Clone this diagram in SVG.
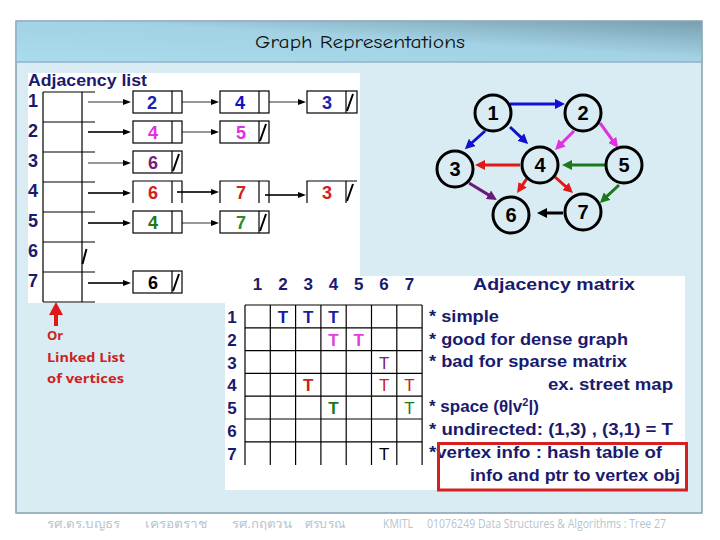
<svg xmlns="http://www.w3.org/2000/svg" width="720" height="540" viewBox="0 0 720 540">
<style>
.lbl{font-family:"Liberation Sans",Arial,sans-serif;font-weight:bold;fill:#1a1a6e}
.num{font-family:"Liberation Sans",Arial,sans-serif;font-weight:bold;text-anchor:middle}
.box{fill:#fff;stroke:#000;stroke-width:1.2}
.ln{stroke:#000;stroke-width:1.2;fill:none}
.ptr{stroke:#333;stroke-width:1.2;fill:none}
.sl{stroke:#000;stroke-width:2;fill:none}
.circ{fill:#daecf3;stroke:#000;stroke-width:3}
.gn{font-family:"Liberation Sans",Arial,sans-serif;font-weight:bold;font-size:20px;text-anchor:middle;fill:#000}
.e{stroke-width:3;fill:none}
.bul{font-family:"Liberation Sans",Arial,sans-serif;font-weight:bold;font-size:17px;fill:#1a1a6e}
.T{font-family:"Liberation Sans",Arial,sans-serif;font-weight:bold;font-size:17px;text-anchor:middle}
.foot{font-family:"Open Sans","Noto Sans","Liberation Sans",sans-serif;font-size:12px;fill:#b8c4cc}
.red{font-family:"Open Sans","Liberation Sans",sans-serif;font-weight:bold;font-size:13px;fill:#cc2222}
</style>
<defs>
<linearGradient id="tg" x1="0" y1="1" x2="1" y2="0">
<stop offset="0" stop-color="#a9dcee"/>
<stop offset="0.55" stop-color="#a2d2e4"/>
<stop offset="1" stop-color="#789eae"/>
</linearGradient>
<marker id="ak" markerUnits="userSpaceOnUse" markerWidth="8" markerHeight="6" refX="1" refY="3" orient="auto"><path d="M0,0 L8,3 L0,6 z" fill="#000"/></marker>
<marker id="mb" markerUnits="userSpaceOnUse" markerWidth="11" markerHeight="10" refX="3" refY="5" orient="auto"><path d="M0,0 L10,5 L0,10 z" fill="#1010d0"/></marker>
<marker id="mm" markerUnits="userSpaceOnUse" markerWidth="11" markerHeight="10" refX="3" refY="5" orient="auto"><path d="M0,0 L10,5 L0,10 z" fill="#e030e0"/></marker>
<marker id="mr" markerUnits="userSpaceOnUse" markerWidth="11" markerHeight="10" refX="3" refY="5" orient="auto"><path d="M0,0 L10,5 L0,10 z" fill="#e01818"/></marker>
<marker id="mg" markerUnits="userSpaceOnUse" markerWidth="11" markerHeight="10" refX="3" refY="5" orient="auto"><path d="M0,0 L10,5 L0,10 z" fill="#1a7a1a"/></marker>
<marker id="mp" markerUnits="userSpaceOnUse" markerWidth="11" markerHeight="10" refX="3" refY="5" orient="auto"><path d="M0,0 L10,5 L0,10 z" fill="#6a1a7a"/></marker>
<marker id="mk" markerUnits="userSpaceOnUse" markerWidth="11" markerHeight="10" refX="3" refY="5" orient="auto"><path d="M0,0 L10,5 L0,10 z" fill="#000"/></marker>
</defs>

<!-- slide frame -->
<rect x="0" y="0" width="720" height="540" fill="#fff"/>
<rect x="16" y="21" width="686" height="492" fill="#daecf3" stroke="#8fa8b8" stroke-width="1.2"/>
<rect x="16" y="21" width="686" height="41" fill="url(#tg)"/>
<line x1="16" y1="62" x2="702" y2="62" stroke="#8fb4c6" stroke-width="1.5"/>
<rect x="16" y="21" width="686" height="492" fill="none" stroke="#8fa8b8" stroke-width="1.2"/>
<text x="360" y="48" text-anchor="middle" font-family="'Comic Neue','DejaVu Sans',sans-serif" font-size="18" fill="#111" textLength="210" lengthAdjust="spacingAndGlyphs">Graph Representations</text>

<!-- white panels -->
<rect x="28" y="73" width="332" height="230" fill="#fff"/>
<rect x="225" y="276" width="460" height="214" fill="#fff"/>

<!-- Adjacency list -->
<g id="adjacency-list">
<text class="lbl" x="28" y="86" font-size="17" textLength="119" lengthAdjust="spacingAndGlyphs">Adjacency list</text>
<g class="lbl" font-size="18">
<text x="28" y="107">1</text><text x="28" y="137">2</text><text x="28" y="167">3</text><text x="28" y="197">4</text><text x="28" y="227">5</text><text x="28" y="257">6</text><text x="28" y="287">7</text>
</g>
<path class="ln" d="M43,92 V302 M82,92 V302 M43,92 H95 M43,122 H95 M43,152 H95 M43,182 H95 M43,212 H95 M43,242 H95 M43,272 H95 M43,302 H95"/>
<line class="sl" x1="82.5" y1="264" x2="86.5" y2="249"/>
</g>

<g id="list-arrows">
<g class="ptr" marker-end="url(#ak)">
<line x1="88" y1="102" x2="124" y2="102"/>
<line x1="88" y1="132" x2="124" y2="132" stroke-width="1.8"/>
<line x1="88" y1="163" x2="124" y2="163"/>
<line x1="88" y1="193" x2="124" y2="193" stroke-width="1.8"/>
<line x1="88" y1="223" x2="124" y2="223" stroke-width="1.8"/>
<line x1="88" y1="283" x2="124" y2="283" stroke-width="1.8"/>
<line x1="178" y1="102" x2="212" y2="102"/>
<line x1="178" y1="132" x2="212" y2="132"/>
<line x1="177" y1="192" x2="212" y2="192" stroke-width="1.8"/>
<line x1="178" y1="223" x2="212" y2="223"/>
<line x1="264" y1="102" x2="299" y2="102"/>
<line x1="265" y1="195" x2="299" y2="195" stroke-width="1.8"/>
</g>
</g>

<g id="row1">
<rect class="box" x="133" y="91" width="49" height="22"/><line class="ln" x1="172" y1="91" x2="172" y2="113"/>
<text class="num" x="152" y="109" font-size="18" fill="#2222a8">2</text>
<rect class="box" x="220" y="91" width="49" height="22"/><line class="ln" x1="259" y1="91" x2="259" y2="113"/>
<text class="num" x="240" y="109" font-size="18" fill="#1010c8">4</text>
<rect class="box" x="307" y="91" width="50" height="22"/><line class="ln" x1="346" y1="91" x2="346" y2="113"/>
<text class="num" x="327" y="109" font-size="18" fill="#2222a8">3</text>
<line class="sl" x1="347" y1="111" x2="353" y2="94"/>
</g>
<g id="row2">
<rect class="box" x="133" y="121" width="49" height="22"/><line class="ln" x1="172" y1="121" x2="172" y2="143"/>
<text class="num" x="153" y="139" font-size="18" fill="#e030e0">4</text>
<rect class="box" x="220" y="121" width="49" height="22"/><line class="ln" x1="259" y1="121" x2="259" y2="143"/>
<text class="num" x="241" y="139" font-size="18" fill="#e030e0">5</text>
<line class="sl" x1="260" y1="141" x2="266" y2="124"/>
</g>
<g id="row3">
<rect class="box" x="133" y="151" width="49" height="22"/><line class="ln" x1="172" y1="151" x2="172" y2="173"/>
<text class="num" x="153" y="169" font-size="18" fill="#7a1a7a">6</text>
<line class="sl" x1="173" y1="171" x2="179" y2="154"/>
</g>
<g id="row4">
<path class="ln" d="M133,203 V181 H182 V203 M172,181 V203"/>
<text class="num" x="153" y="199" font-size="18" fill="#d42020">6</text>
<path class="ln" d="M220,203 V181 H269 V203 M259,181 V203"/>
<text class="num" x="241" y="199" font-size="18" fill="#d42020">7</text>
<path class="ln" d="M307,203 V181 H357 M346,181 V203"/>
<text class="num" x="327" y="199" font-size="18" fill="#d42020">3</text>
<line class="sl" x1="347" y1="201" x2="353" y2="184"/>
</g>
<g id="row5">
<rect class="box" x="133" y="211" width="49" height="22"/><line class="ln" x1="172" y1="211" x2="172" y2="233"/>
<text class="num" x="153" y="229" font-size="18" fill="#1a7a1a">4</text>
<rect class="box" x="220" y="211" width="49" height="22"/><line class="ln" x1="259" y1="211" x2="259" y2="233"/>
<text class="num" x="241" y="229" font-size="18" fill="#2a8a2a" font-weight="normal">7</text>
<line class="sl" x1="260" y1="231" x2="266" y2="214"/>
</g>
<g id="row7">
<rect class="box" x="133" y="271" width="49" height="22"/><line class="ln" x1="172" y1="271" x2="172" y2="293"/>
<text class="num" x="153" y="289" font-size="18" fill="#000" font-weight="normal">6</text>
<line class="sl" x1="173" y1="291" x2="179" y2="274"/>
</g>

<!-- vertex list note -->
<g id="note">
<path d="M56,302 L63,315 L58,315 L58,326 L54,326 L54,315 L49,315 Z" fill="#e01818"/>
<text class="red" x="47" y="340">Or</text>
<text class="red" x="47" y="362" textLength="78" lengthAdjust="spacingAndGlyphs">Linked List</text>
<text class="red" x="47" y="383" textLength="77" lengthAdjust="spacingAndGlyphs">of vertices</text>
</g>

<!-- Graph -->
<g id="graph-edges">
<line class="e" stroke="#1010d0" x1="510" y1="104" x2="558" y2="104" marker-end="url(#mb)"/>
<line class="e" stroke="#1010d0" x1="485" y1="131" x2="470" y2="144.5" marker-end="url(#mb)"/>
<line class="e" stroke="#1010d0" x1="510" y1="127" x2="523" y2="139.2" marker-end="url(#mb)"/>
<line class="e" stroke="#e030e0" x1="574" y1="131" x2="560" y2="145" marker-end="url(#mm)"/>
<line class="e" stroke="#e030e0" x1="600" y1="123" x2="614" y2="142.3" marker-end="url(#mm)"/>
<line class="e" stroke="#e01818" x1="520" y1="165" x2="482" y2="165" marker-end="url(#mr)"/>
<line class="e" stroke="#1a7a1a" x1="605" y1="165" x2="569" y2="165" marker-end="url(#mg)"/>
<line class="e" stroke="#6a1a7a" x1="469" y1="183" x2="491" y2="196.4" marker-end="url(#mp)"/>
<line class="e" stroke="#e01818" x1="528" y1="177" x2="521" y2="187.2" marker-end="url(#mr)"/>
<line class="e" stroke="#e01818" x1="555" y1="177" x2="567.8" y2="188.4" marker-end="url(#mr)"/>
<line class="e" stroke="#1a7a1a" x1="619" y1="185" x2="605" y2="198.2" marker-end="url(#mg)"/>
<line class="e" stroke="#000" x1="563" y1="213" x2="544" y2="213" marker-end="url(#mk)"/>
</g>
<g id="v1"><circle class="circ" cx="493" cy="113" r="18"/><text class="gn" x="493" y="120">1</text></g>
<g id="v2"><circle class="circ" cx="583" cy="113" r="18"/><text class="gn" x="583" y="120">2</text></g>
<g id="v3"><circle class="circ" cx="455" cy="169" r="18"/><text class="gn" x="455" y="176">3</text></g>
<g id="v4"><circle class="circ" cx="540" cy="165" r="18"/><text class="gn" x="540" y="172">4</text></g>
<g id="v5"><circle class="circ" cx="624" cy="165" r="18"/><text class="gn" x="624" y="172">5</text></g>
<g id="v6"><circle class="circ" cx="511" cy="215" r="18"/><text class="gn" x="511" y="222">6</text></g>
<g id="v7"><circle class="circ" cx="583" cy="212" r="18"/><text class="gn" x="583" y="219">7</text></g>

<!-- Adjacency matrix -->
<g id="adjacency-matrix">
<g class="lbl" font-size="17" text-anchor="middle">
<text x="257.6" y="290">1</text><text x="282.9" y="290">2</text><text x="308.2" y="290">3</text><text x="333.5" y="290">4</text><text x="358.8" y="290">5</text><text x="384.1" y="290">6</text><text x="409.4" y="290">7</text>
<text x="232" y="323">1</text><text x="232" y="345.8">2</text><text x="232" y="368.6">3</text><text x="232" y="391.4">4</text><text x="232" y="414.2">5</text><text x="232" y="437">6</text><text x="232" y="459.8">7</text>
</g>
<text class="lbl" x="473" y="290" font-size="17" textLength="162" lengthAdjust="spacingAndGlyphs">Adjacency matrix</text>
<path class="ln" d="M245,305 V465 M270.3,305 V465 M295.6,305 V465 M320.9,305 V465 M346.2,305 V465 M371.5,305 V465 M396.8,305 V465 M422.1,305 V465 M245,305 H422.1 M245,327.8 H422.1 M245,350.6 H422.1 M245,373.4 H422.1 M245,396.2 H422.1 M245,419 H422.1 M245,441.8 H422.1"/>
<g class="T">
<text x="282.9" y="323" fill="#1a1aa8">T</text><text x="308.2" y="323" fill="#1a1aa8">T</text><text x="333.5" y="323" fill="#1a1aa8">T</text>
<text x="333.5" y="345.8" fill="#e040e0">T</text><text x="358.8" y="345.8" fill="#e040e0">T</text>
<text x="384.1" y="368.6" fill="#7a1a7a" font-weight="normal">T</text>
<text x="308.2" y="391.4" fill="#cc2020">T</text><text x="384.1" y="391.4" fill="#cc2020" font-weight="normal">T</text><text x="409.4" y="391.4" fill="#cc2020" font-weight="normal">T</text>
<text x="333.5" y="414.2" fill="#1a7a1a">T</text><text x="409.4" y="414.2" fill="#1a7a1a" font-weight="normal">T</text>
<text x="384.1" y="459.8" fill="#000" font-weight="normal">T</text>
</g>
<text class="bul" x="429" y="322" textLength="70" lengthAdjust="spacingAndGlyphs">* simple</text>
<text class="bul" x="429" y="345" textLength="199" lengthAdjust="spacingAndGlyphs">* good for dense graph</text>
<text class="bul" x="429" y="367" textLength="198" lengthAdjust="spacingAndGlyphs">* bad for sparse matrix</text>
<text class="bul" x="548" y="390" textLength="125" lengthAdjust="spacingAndGlyphs">ex. street map</text>
<text class="bul" x="429" y="412" fill="#1a7a1a">* space (θ|v<tspan font-size="11" dy="-6">2</tspan><tspan dy="6">|)</tspan></text>
<text class="bul" x="429" y="435" textLength="244" lengthAdjust="spacingAndGlyphs">* undirected: (1,3) , (3,1) = T</text>
<text class="bul" x="429" y="458" textLength="233" lengthAdjust="spacingAndGlyphs">*vertex info : hash table of</text>
<text class="bul" x="470" y="481" textLength="210" lengthAdjust="spacingAndGlyphs">info and ptr to vertex obj</text>
<rect x="438.5" y="443.5" width="248" height="46.5" fill="none" stroke="#d42020" stroke-width="3"/>
</g>

<!-- footer -->
<g id="footer">
<text class="foot" x="47" y="528" textLength="73" lengthAdjust="spacingAndGlyphs">รศ.ดร.บญธร</text>
<text class="foot" x="145" y="528" textLength="62" lengthAdjust="spacingAndGlyphs">เครอตราช</text>
<text class="foot" x="232" y="528" textLength="60" lengthAdjust="spacingAndGlyphs">รศ.กฤตวน</text>
<text class="foot" x="305" y="528" textLength="40" lengthAdjust="spacingAndGlyphs">ศรบรณ</text>
<text class="foot" x="383" y="528" textLength="30" lengthAdjust="spacingAndGlyphs">KMITL</text>
<text class="foot" x="427" y="528" textLength="239" lengthAdjust="spacingAndGlyphs">01076249 Data Structures &amp; Algorithms : Tree 27</text>
</g>
</svg>
